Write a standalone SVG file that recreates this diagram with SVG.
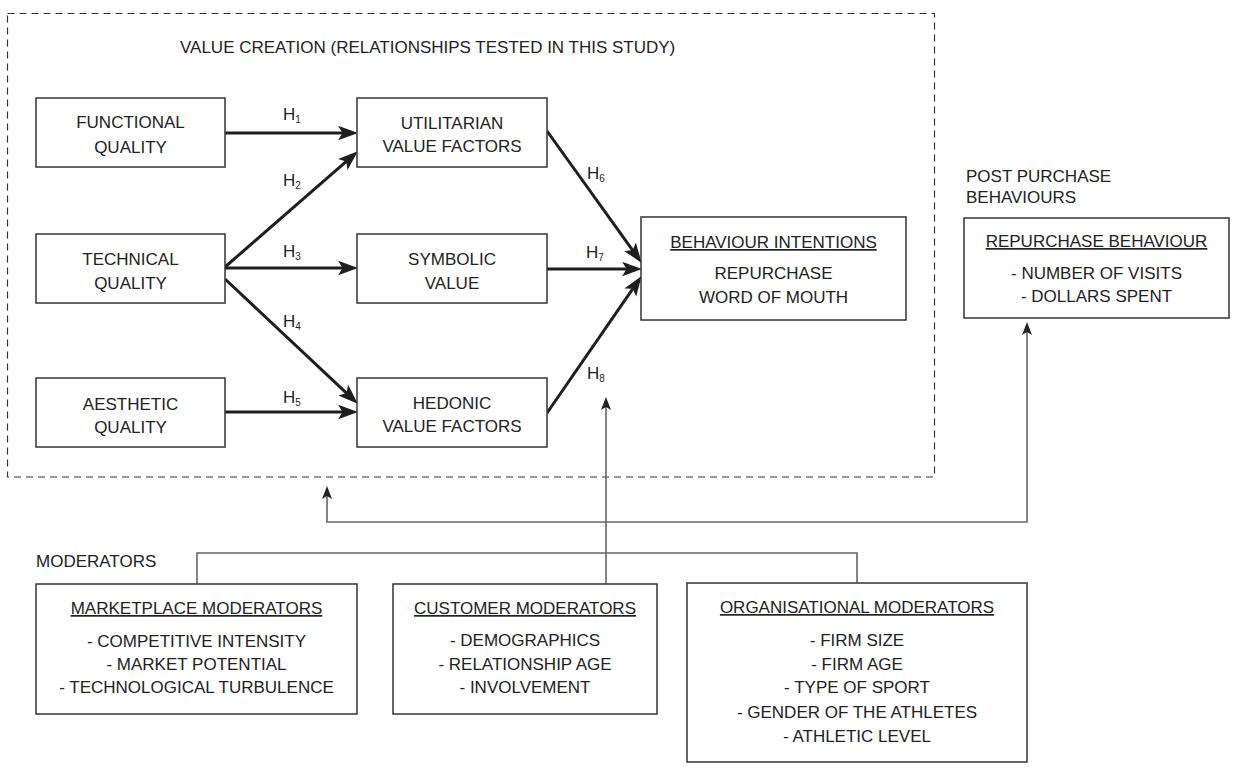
<svg xmlns="http://www.w3.org/2000/svg" width="1235" height="767" viewBox="0 0 1235 767">
  <style>
    text { font-family: "Liberation Sans", Arial, sans-serif; font-size: 17px; fill: #222; }
    .c { text-anchor: middle; }
    .u { text-decoration: underline; }
    .sub { font-size: 10px; }
    .box { fill: #fff; stroke: #333; stroke-width: 1.5; }
    .frame { fill: none; stroke: #333; stroke-width: 1.2; stroke-dasharray: 7 5; }
    .thick { fill: none; stroke: #1e1e1e; stroke-width: 3; marker-end: url(#big); }
    .thin { fill: none; stroke: #666; stroke-width: 1.6; }
  </style>
  <defs>
    <marker id="big" markerUnits="userSpaceOnUse" markerWidth="20" markerHeight="16" viewBox="0 -7 18 14" refX="8" refY="0" orient="auto">
      <path d="M0,-6.5 L18,0 L0,6.5 L4,0 z" fill="#1e1e1e"/>
    </marker>
    <marker id="small" markerUnits="userSpaceOnUse" markerWidth="14" markerHeight="12" viewBox="0 -6 13 12" refX="6" refY="0" orient="auto-start-reverse">
      <path d="M0,-5 L13,0 L0,5 L3,0 z" fill="#222"/>
    </marker>
  </defs>

  <rect width="1235" height="767" fill="#fff"/>

  <!-- value creation frame -->
  <g id="value-creation">
    <rect class="frame" x="7.5" y="13.5" width="927" height="463.5"/>
    <text x="180" y="53">VALUE CREATION (RELATIONSHIPS TESTED IN THIS STUDY)</text>
  </g>

  <!-- connectors -->
  <g id="connectors">
    <line class="thick" x1="225" y1="133" x2="347" y2="133"/>
    <line class="thick" x1="225" y1="267" x2="349.5" y2="158.6"/>
    <line class="thick" x1="225" y1="268" x2="347" y2="268"/>
    <line class="thick" x1="225" y1="279" x2="349.7" y2="396.2"/>
    <line class="thick" x1="225" y1="412" x2="347" y2="412"/>
    <line class="thick" x1="547" y1="131" x2="635.2" y2="253.9"/>
    <line class="thick" x1="547" y1="269" x2="631" y2="269"/>
    <line class="thick" x1="547" y1="413" x2="635.3" y2="285.2"/>

    <!-- feedback loop between value creation and repurchase behaviour -->
    <polyline class="thin" points="327,493 327,522 1027,522 1027,329" marker-start="url(#small)" marker-end="url(#small)"/>
    <!-- moderators bracket -->
    <polyline class="thin" points="197,584 197,553 857,553 857,584"/>
    <!-- customer moderators to H8 -->
    <line class="thin" x1="606" y1="584" x2="606" y2="404" marker-end="url(#small)"/>

    <text x="283" y="120">H<tspan class="sub" dy="3">1</tspan></text>
    <text x="283" y="186">H<tspan class="sub" dy="3">2</tspan></text>
    <text x="283" y="257">H<tspan class="sub" dy="3">3</tspan></text>
    <text x="283" y="327">H<tspan class="sub" dy="3">4</tspan></text>
    <text x="283" y="403">H<tspan class="sub" dy="3">5</tspan></text>
    <text x="587" y="179">H<tspan class="sub" dy="3">6</tspan></text>
    <text x="586" y="258">H<tspan class="sub" dy="3">7</tspan></text>
    <text x="587" y="379">H<tspan class="sub" dy="3">8</tspan></text>
  </g>

  <g id="functional-quality">
    <rect class="box" x="36" y="98" width="189" height="69"/>
    <text class="c" x="130.5" y="128">FUNCTIONAL</text>
    <text class="c" x="130.5" y="153">QUALITY</text>
  </g>
  <g id="technical-quality">
    <rect class="box" x="36" y="234" width="189" height="69"/>
    <text class="c" x="130.5" y="265">TECHNICAL</text>
    <text class="c" x="130.5" y="289">QUALITY</text>
  </g>
  <g id="aesthetic-quality">
    <rect class="box" x="36" y="378" width="189" height="69"/>
    <text class="c" x="130.5" y="410">AESTHETIC</text>
    <text class="c" x="130.5" y="433">QUALITY</text>
  </g>

  <g id="utilitarian-value">
    <rect class="box" x="357" y="98" width="190" height="69"/>
    <text class="c" x="452" y="129">UTILITARIAN</text>
    <text class="c" x="452" y="152">VALUE FACTORS</text>
  </g>
  <g id="symbolic-value">
    <rect class="box" x="357" y="234" width="190" height="69"/>
    <text class="c" x="452" y="265">SYMBOLIC</text>
    <text class="c" x="452" y="289">VALUE</text>
  </g>
  <g id="hedonic-value">
    <rect class="box" x="357" y="378" width="190" height="69"/>
    <text class="c" x="452" y="409">HEDONIC</text>
    <text class="c" x="452" y="432">VALUE FACTORS</text>
  </g>

  <g id="behaviour-intentions">
    <rect class="box" x="641" y="217" width="265" height="103"/>
    <text class="c u" x="773.5" y="248">BEHAVIOUR INTENTIONS</text>
    <text class="c" x="773.5" y="279">REPURCHASE</text>
    <text class="c" x="773.5" y="303">WORD OF MOUTH</text>
  </g>

  <g id="post-purchase">
    <text x="966" y="182">POST PURCHASE</text>
    <text x="966" y="203">BEHAVIOURS</text>
  </g>
  <g id="repurchase-behaviour">
    <rect class="box" x="964" y="218" width="265" height="100"/>
    <text class="c u" x="1096.5" y="247">REPURCHASE BEHAVIOUR</text>
    <text class="c" x="1096.5" y="279">- NUMBER OF VISITS</text>
    <text class="c" x="1096.5" y="302">- DOLLARS SPENT</text>
  </g>

  <g id="moderators-label">
    <text x="36" y="567">MODERATORS</text>
  </g>
  <g id="marketplace-moderators">
    <rect class="box" x="36" y="584" width="321" height="130"/>
    <text class="c u" x="196.5" y="614">MARKETPLACE MODERATORS</text>
    <text class="c" x="196.5" y="647">- COMPETITIVE INTENSITY</text>
    <text class="c" x="196.5" y="670">- MARKET POTENTIAL</text>
    <text class="c" x="196.5" y="693">- TECHNOLOGICAL TURBULENCE</text>
  </g>
  <g id="customer-moderators">
    <rect class="box" x="393" y="584" width="264" height="130"/>
    <text class="c u" x="525" y="614">CUSTOMER MODERATORS</text>
    <text class="c" x="525" y="646">- DEMOGRAPHICS</text>
    <text class="c" x="525" y="670">- RELATIONSHIP AGE</text>
    <text class="c" x="525" y="693">- INVOLVEMENT</text>
  </g>
  <g id="organisational-moderators">
    <rect class="box" x="687" y="583" width="340" height="179"/>
    <text class="c u" x="857" y="613">ORGANISATIONAL MODERATORS</text>
    <text class="c" x="857" y="646">- FIRM SIZE</text>
    <text class="c" x="857" y="670">- FIRM AGE</text>
    <text class="c" x="857" y="693">- TYPE OF SPORT</text>
    <text class="c" x="857" y="718">- GENDER OF THE ATHLETES</text>
    <text class="c" x="857" y="742">- ATHLETIC LEVEL</text>
  </g>
</svg>
